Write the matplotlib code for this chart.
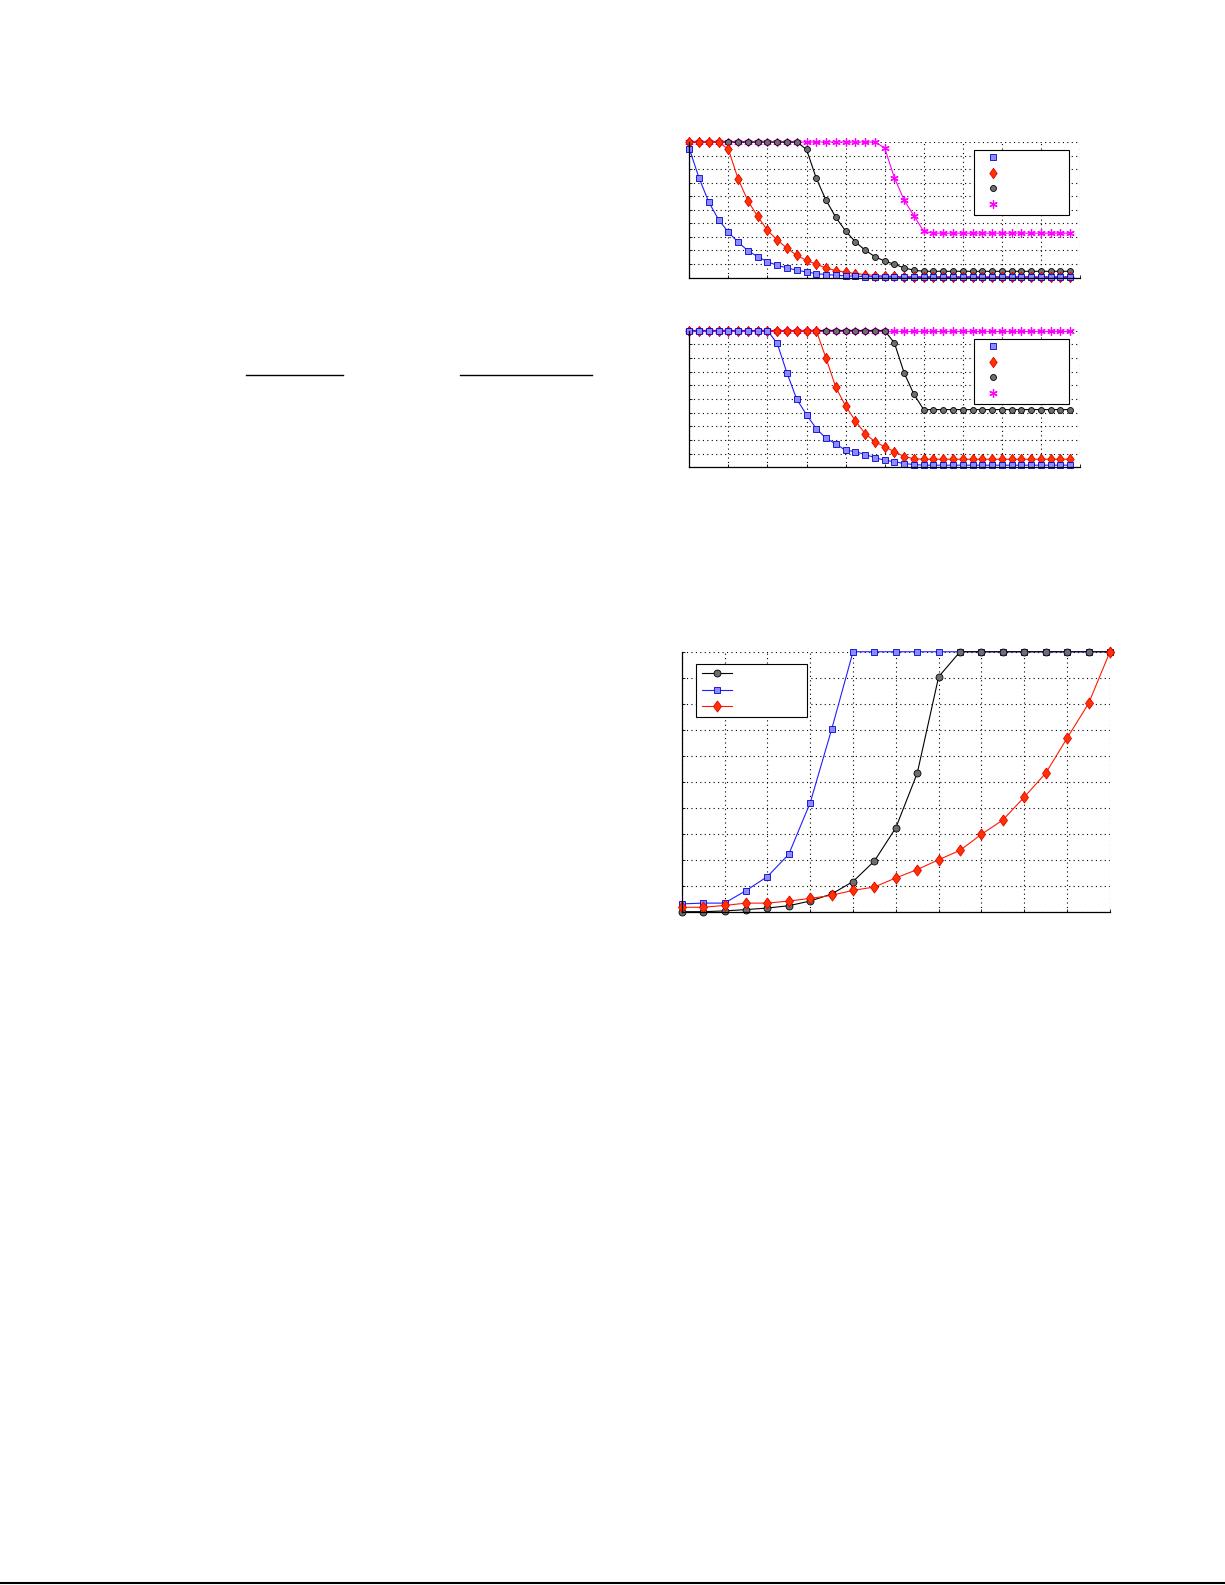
import numpy as np
import matplotlib

matplotlib.use("Agg")
import matplotlib.pyplot as plt
from matplotlib.lines import Line2D

# ---- data ----
steps_top = np.arange(40)

p1_blue = [0.951, 0.734, 0.556, 0.427, 0.334, 0.261, 0.198, 0.154, 0.117, 0.090,
           0.071, 0.054, 0.041, 0.029, 0.022, 0.017, 0.012, 0.010, 0.007, 0.005,
           0.004, 0.003, 0.003, 0.002, 0.002, 0.002, 0.002, 0.002, 0.002, 0.002,
           0.002, 0.002, 0.002, 0.002, 0.002, 0.002, 0.002, 0.002, 0.002, 0.002]
p1_red = [1.0, 1.0, 1.0, 1.0, 0.946, 0.727, 0.566, 0.451, 0.349, 0.276,
          0.217, 0.163, 0.127, 0.098, 0.071, 0.051, 0.039, 0.029, 0.022, 0.015,
          0.011, 0.008, 0.006, 0.006, 0.006, 0.006, 0.006, 0.006, 0.006, 0.006,
          0.006, 0.006, 0.006, 0.006, 0.006, 0.006, 0.006, 0.006, 0.006, 0.006]
p1_black = [1.0] * 12 + [0.946, 0.732, 0.571, 0.444, 0.344, 0.263, 0.202, 0.154,
                         0.122, 0.098, 0.071, 0.054] + [0.046] * 16
p1_magenta = [1.0] * 20 + [0.956, 0.737, 0.571, 0.456, 0.341] + [0.327] * 15

p2_blue = [1.0] * 9 + [0.907, 0.690, 0.498, 0.385, 0.283, 0.212, 0.171, 0.124,
                       0.115, 0.093, 0.071, 0.051, 0.041, 0.027, 0.020] + [0.015] * 16
p2_red = [1.0] * 14 + [0.798, 0.585, 0.449, 0.341, 0.246, 0.188, 0.149, 0.115,
                       0.078, 0.063] + [0.059] * 16
p2_black = [1.0] * 21 + [0.910, 0.690, 0.534] + [0.422] * 16
p2_magenta = [1.0] * 40

steps_bottom = np.arange(21)
p3_black = [0.0, 0.0, 0.003, 0.008, 0.014, 0.023, 0.041, 0.068, 0.116, 0.195,
            0.323, 0.533, 0.904, 1.0, 1.0, 1.0, 1.0, 1.0, 1.0, 1.0, 1.0]
p3_blue = [0.030, 0.033, 0.033, 0.081, 0.135, 0.221, 0.419, 0.701, 1.0, 1.0,
           1.0, 1.0, 1.0, 1.0, 1.0, 1.0, 1.0, 1.0, 1.0, 1.0, 1.0]
p3_red = [0.017, 0.017, 0.024, 0.033, 0.033, 0.041, 0.051, 0.063, 0.082, 0.095,
          0.130, 0.162, 0.200, 0.236, 0.298, 0.353, 0.441, 0.533, 0.668, 0.801, 1.0]

# ---- marker styles ----
DIAMOND = [(0, 1), (0.72, 0), (0, -1), (-0.72, 0), (0, 1)]


def styles():
    sq = dict(color="#1f1fff", marker="s", mfc="#8c8cff", mec="#0000cc",
              ms=3.8, mew=0.6, lw=0.8)
    di = dict(color="#ff1a00", marker=DIAMOND, mfc="#ff3300", mec="#e60000",
              ms=7.4, mew=0.6, lw=0.8)
    ci = dict(color="black", marker="o", mfc="#6e6e6e", mec="black",
              ms=4.3, mew=0.6, lw=0.8)
    st = dict(color="#ff00ff", marker=(6, 2, 0), mfc="#ff00ff", mec="#ff00ff",
              ms=6.0, mew=0.9, lw=0.8)
    return sq, di, ci, st


def style_axes(ax, xmax, xstep):
    ax.set_xlim(0, xmax)
    ax.set_ylim(0, 1)
    ax.set_xticks(np.arange(0, xmax + 0.1, xstep))
    ax.set_yticks(np.linspace(0, 1, 11))
    ax.tick_params(direction="in", length=2.5, width=0.6, labelbottom=False,
                   labelleft=False, top=False, right=False)
    for side in ["top", "right"]:
        ax.spines[side].set_visible(False)
    for side in ["left", "bottom"]:
        ax.spines[side].set_linewidth(0.9)
    ax.grid(True, color="black", linestyle=(0, (1, 3)), linewidth=0.8)
    ax.set_axisbelow(True)


def proxy(st):
    return Line2D([], [], linestyle="none", marker=st["marker"], mfc=st["mfc"],
                  mec=st["mec"], ms=st["ms"], mew=st["mew"])


fig = plt.figure(figsize=(12.25, 15.85), dpi=100)

# two small panels on the right
sq, di, ci, st = styles()
panels = [
    ([0.5627, 0.8249, 0.3189, 0.0855], p1_blue, p1_red, p1_black, p1_magenta),
    ([0.5627, 0.7052, 0.3189, 0.0862], p2_blue, p2_red, p2_black, p2_magenta),
]
for rect, yb, yr, yk, ym in panels:
    ax = fig.add_axes(rect)
    style_axes(ax, 40, 4)
    # later series sit underneath earlier ones
    ax.plot(steps_top, ym, clip_on=False, zorder=2.1, **st)
    ax.plot(steps_top, yk, clip_on=False, zorder=2.2, **ci)
    ax.plot(steps_top, yr, clip_on=False, zorder=2.3, **di)
    ax.plot(steps_top, yb, clip_on=False, zorder=2.4, **sq)
    leg = ax.legend([proxy(sq), proxy(di), proxy(ci), proxy(st)], [""] * 4,
                    loc="upper left", bbox_to_anchor=(0.729, 0.459, 0.244, 0.48),
                    mode="expand", borderaxespad=0, fontsize=3, handleheight=3.72,
                    labelspacing=1.06, borderpad=0.89, handlelength=7.34,
                    handletextpad=0.5, numpoints=1, fancybox=False,
                    framealpha=1, edgecolor="black")
    leg.get_frame().set_linewidth(0.8)
    leg.set_zorder(5)

# large panel
sq, di, ci, st = styles()
sq["ms"] = 4.8
di["ms"] = 8.0
ci["ms"] = 5.0
ax3 = fig.add_axes([0.5565, 0.4248, 0.3496, 0.1640])
style_axes(ax3, 20, 2)
h_blue, = ax3.plot(steps_bottom, p3_blue, clip_on=False, zorder=2.1, **sq)
h_black, = ax3.plot(steps_bottom, p3_black, clip_on=False, zorder=2.2, **ci)
h_red, = ax3.plot(steps_bottom, p3_red, clip_on=False, zorder=2.3, **di)
leg = ax3.legend([h_black, h_blue, h_red], [""] * 3, loc="upper left",
                 bbox_to_anchor=(0.0327, 0.5, 0.2606, 0.4515), mode="expand",
                 borderaxespad=0, fontsize=3, handleheight=2.0,
                 labelspacing=2.42, borderpad=1.58, handlelength=7.05,
                 handletextpad=0.5, numpoints=1, fancybox=False,
                 framealpha=1, edgecolor="black")
leg.get_frame().set_linewidth(0.8)
leg.set_zorder(5)

# leftover rules from the page: fraction bars and the footer line
for x0, x1 in [(0.2008, 0.2798), (0.3755, 0.4830)]:
    fig.add_artist(Line2D([x0, x1], [0.7634, 0.7634], transform=fig.transFigure,
                          color="black", lw=1.0))
fig.add_artist(Line2D([0, 1], [0.001, 0.001], transform=fig.transFigure,
                      color="black", lw=1.5))

fig.savefig("out.png", dpi=100)
